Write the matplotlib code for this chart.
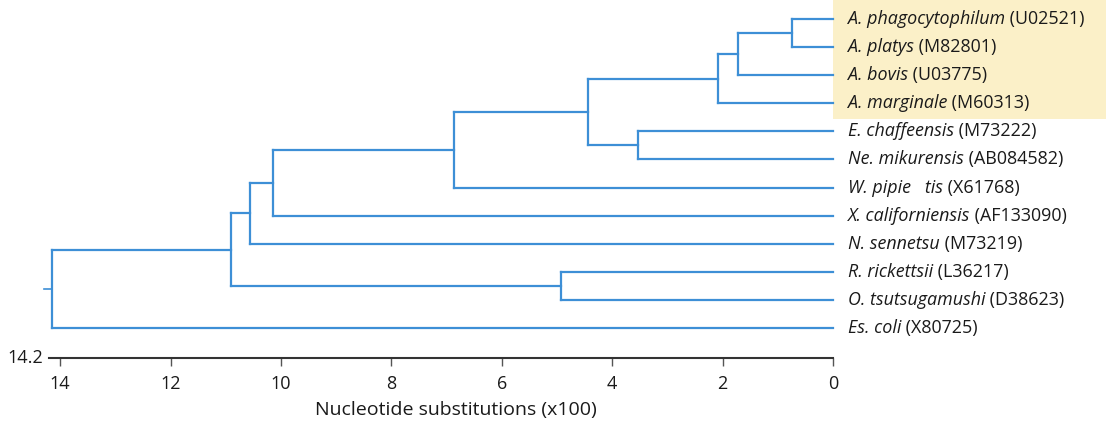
import matplotlib
matplotlib.use("Agg")
import matplotlib.pyplot as plt
from matplotlib.patches import Rectangle

# leaves, top to bottom
leaf_names = ["A. phagocytophilum", "A. platys", "A. bovis", "A. marginale",
              "E. chaffeensis", "Ne. mikurensis", "W. pipie   tis",
              "X. californiensis", "N. sennetsu", "R. rickettsii",
              "O. tsutsugamushi", "Es. coli"]
leaf_acc = ["(U02521)", "(M82801)", "(U03775)", "(M60313)", "(M73222)",
            "(AB084582)", "(X61768)", "(AF133090)", "(M73219)", "(L36217)",
            "(D38623)", "(X80725)"]

# internal nodes: height (x100 substitutions) and children
node_height = {
    "root": 14.15, "n1": 10.9, "n2": 10.57, "n3": 10.15, "n4": 6.86,
    "n5": 4.44, "ana": 2.08, "ana2": 1.72, "ana3": 0.75, "ehr": 3.54,
    "rick": 4.93,
}
node_children = {
    "root": ["n1", 11],
    "n1": ["n2", "rick"],
    "n2": ["n3", 8],
    "n3": ["n4", 7],
    "n4": ["n5", 6],
    "n5": ["ana", "ehr"],
    "ana": ["ana2", 3],
    "ana2": ["ana3", 2],
    "ana3": [0, 1],
    "ehr": [4, 5],
    "rick": [9, 10],
}

ticks = [14, 12, 10, 8, 6, 4, 2, 0]

line_col = "#3d8fd6"
txt_col = "#1a1a1a"
W, H = 1106, 423
x0, scale = 833, 55.2  # pixel of 0, pixels per unit

fig = plt.figure(figsize=(W / 100, H / 100), dpi=100)
fig.add_artist(Rectangle((833 / W, 1 - 119 / H), (W - 833) / W, 119 / H,
                         transform=fig.transFigure, facecolor="#fbf0c8",
                         edgecolor="none", zorder=0))

xmax = 14.6
left = (x0 - xmax * scale) / W
ax = fig.add_axes([left, 1 - 358 / H, (x0 / W) - left, (358 - 2) / H])
ax.set_facecolor("none")
ax.set_xlim(xmax, 0)
ax.set_ylim(12.06, -0.6)


def pos(n):
    if isinstance(n, int):
        return 0.0, float(n)
    ys = [pos(c)[1] for c in node_children[n]]
    return node_height[n], sum(ys) / len(ys)


def draw(n):
    if isinstance(n, int):
        return
    hx, hy = pos(n)
    cps = [pos(c) for c in node_children[n]]
    ax.plot([hx, hx], [min(p[1] for p in cps), max(p[1] for p in cps)],
            color=line_col, lw=1.6, solid_capstyle="projecting")
    for c, (cx, cy) in zip(node_children[n], cps):
        ax.plot([hx, cx], [cy, cy], color=line_col, lw=1.6,
                solid_capstyle="projecting", clip_on=False)
        draw(c)


draw("root")
rx, ry = pos("root")
ax.plot([rx, 14.29], [ry, ry], color=line_col, lw=1.2, clip_on=False)

fnt = "Open Sans"
fs = 12.9
for i, (nm, acc) in enumerate(zip(leaf_names, leaf_acc)):
    t = ax.text(-0.27, i, nm, style="italic", fontsize=fs, family=fnt,
                va="center", ha="left", color=txt_col, clip_on=False)
    ax.annotate(" " + acc, xy=(1, 0), xycoords=t, va="bottom", ha="left",
                fontsize=fs, family=fnt, color=txt_col)

for s in ["top", "left", "right"]:
    ax.spines[s].set_visible(False)
ax.spines["bottom"].set_bounds(0, 14.2)
ax.spines["bottom"].set_linewidth(1.5)
ax.spines["bottom"].set_color("#333333")
ax.set_yticks([])
ax.set_xticks(ticks)
ax.set_xticklabels([str(t) for t in ticks], family=fnt, fontsize=13)
ax.tick_params(axis="x", direction="out", length=6, width=1, color="#555555",
               pad=6, labelcolor=txt_col)

ax.text(14.3, 12.06, "14.2", ha="right", va="center", family=fnt,
        fontsize=13, color=txt_col, clip_on=False)
ax.text(6.83, -0.145, "Nucleotide substitutions (x100)", ha="center",
        va="center", family=fnt, fontsize=14, color=txt_col,
        transform=ax.get_xaxis_transform())

fig.savefig("out.png", dpi=100)
